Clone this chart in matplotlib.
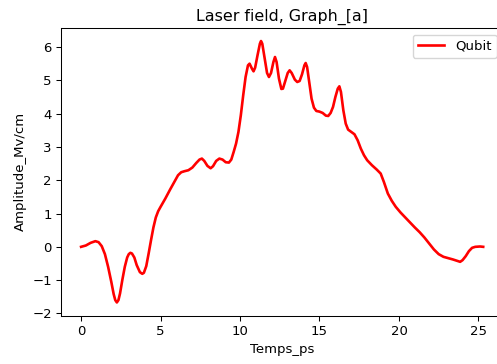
import matplotlib
matplotlib.use("Agg")
import matplotlib.pyplot as plt

# Laser field amplitude versus time
temps_ps = [
    0.0, 0.3, 0.6, 0.9, 1.1, 1.3, 1.5, 1.7, 1.9, 2.05, 2.15, 2.25, 2.35, 2.45,
    2.6, 2.75, 2.9, 3.0, 3.1, 3.2, 3.35, 3.5, 3.7, 3.85, 3.95, 4.1, 4.25, 4.4,
    4.55, 4.7, 4.85, 5.0, 5.3, 5.6, 5.9, 6.1, 6.3, 6.5, 6.75, 7.0, 7.25, 7.45,
    7.6, 7.75, 7.95, 8.15, 8.3, 8.5, 8.7, 8.9, 9.1, 9.3, 9.45, 9.6, 9.75, 9.9,
    10.05, 10.2, 10.35, 10.5, 10.6, 10.75, 10.85, 10.95, 11.1, 11.25, 11.32,
    11.4, 11.55, 11.7, 11.82, 11.95, 12.1, 12.2, 12.3, 12.45, 12.6, 12.7,
    12.85, 13.0, 13.12, 13.25, 13.45, 13.6, 13.75, 13.9, 14.05, 14.13, 14.22,
    14.35, 14.5, 14.65, 14.8, 15.0, 15.2, 15.4, 15.55, 15.7, 15.85, 16.0,
    16.15, 16.25, 16.35, 16.5, 16.65, 16.8, 17.0, 17.2, 17.4, 17.6, 17.8,
    18.0, 18.3, 18.6, 18.85, 19.05, 19.3, 19.55, 19.8, 20.1, 20.4, 20.7, 21.0,
    21.3, 21.6, 21.9, 22.2, 22.5, 22.8, 23.1, 23.4, 23.65, 23.85, 24.0, 24.2,
    24.4, 24.6, 24.8, 25.1, 25.3,
]
amplitude = [
    0.00, 0.04, 0.12, 0.17, 0.14, 0.02, -0.22, -0.60, -1.05, -1.42, -1.60,
    -1.67, -1.60, -1.40, -0.98, -0.60, -0.32, -0.22, -0.18, -0.20, -0.32,
    -0.55, -0.76, -0.81, -0.78, -0.58, -0.20, 0.20, 0.58, 0.88, 1.07, 1.20,
    1.45, 1.72, 1.98, 2.15, 2.24, 2.27, 2.30, 2.38, 2.52, 2.62, 2.65, 2.58,
    2.43, 2.36, 2.42, 2.58, 2.65, 2.62, 2.54, 2.53, 2.62, 2.85, 3.10, 3.45,
    3.95, 4.55, 5.10, 5.45, 5.50, 5.35, 5.27, 5.38, 5.75, 6.10, 6.18, 6.10,
    5.65, 5.22, 5.10, 5.22, 5.55, 5.70, 5.55, 5.05, 4.74, 4.75, 4.98, 5.22,
    5.30, 5.22, 5.02, 4.95, 4.98, 5.18, 5.45, 5.52, 5.40, 4.95, 4.45, 4.18,
    4.08, 4.06, 4.02, 3.94, 3.93, 4.02, 4.20, 4.50, 4.75, 4.82, 4.65, 4.10,
    3.70, 3.52, 3.45, 3.38, 3.20, 2.95, 2.75, 2.60, 2.45, 2.32, 2.20, 1.95,
    1.60, 1.38, 1.20, 1.03, 0.88, 0.73, 0.58, 0.44, 0.28, 0.10, -0.08, -0.22,
    -0.30, -0.34, -0.38, -0.42, -0.45, -0.40, -0.28, -0.13, -0.03, 0.00,
    0.01, 0.00,
]

fs = 9.5
plt.rcParams.update({
    "font.family": "DejaVu Sans",
    "xtick.labelsize": fs,
    "ytick.labelsize": fs,
    "xtick.major.size": 3.3,
    "ytick.major.size": 3.3,
    "xtick.major.pad": 3.3,
    "ytick.major.pad": 3.3,
    "xtick.major.width": 0.75,
    "ytick.major.width": 0.75,
    "axes.linewidth": 0.75,
})

fig = plt.figure(figsize=(4.97, 3.64), dpi=100)
ax = fig.add_axes([0.1227, 0.1332, 0.890, 0.790])

ax.plot(temps_ps, amplitude, color="red", linewidth=1.9, label="Qubit")

ax.set_title("Laser field, Graph_[a]", fontsize=11.4, pad=5.5)
ax.set_xlabel("Temps_ps", fontsize=fs, labelpad=3.5)
ax.set_ylabel("Amplitude_Mv/cm", fontsize=fs, labelpad=3.5)
ax.set_xticks([0, 5, 10, 15, 20, 25])
ax.set_yticks([-2, -1, 0, 1, 2, 3, 4, 5, 6])
ax.legend(loc="upper right", fontsize=fs)

fig.savefig("out.png", dpi=100)
